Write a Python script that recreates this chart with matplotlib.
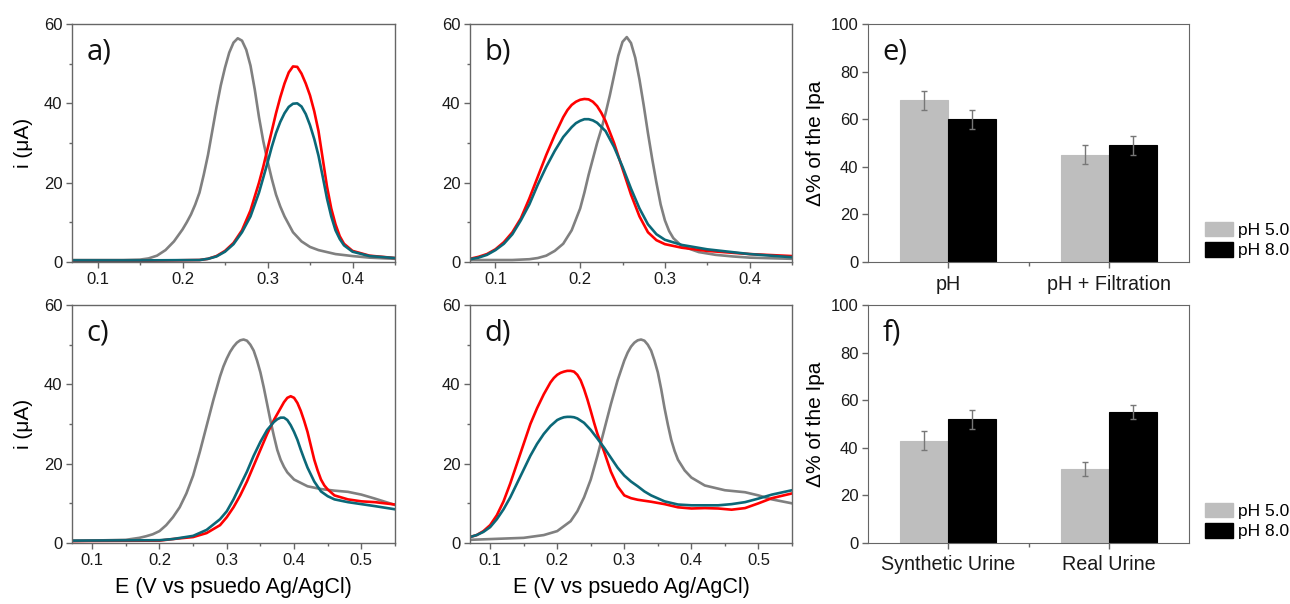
import matplotlib
matplotlib.use("Agg")
import matplotlib.pyplot as plt
from matplotlib.ticker import MultipleLocator, FixedLocator
from matplotlib.patches import Patch

# ---------------- data ----------------
# panel a
xa_gray = [0.07,0.10,0.13,0.15,0.16,0.17,0.18,0.19,0.20,0.205,0.21,0.215,0.22,0.225,0.23,0.235,0.24,0.245,0.25,0.255,0.26,0.265,0.27,0.275,0.28,0.285,0.29,0.295,0.30,0.305,0.31,0.315,0.32,0.33,0.34,0.35,0.36,0.38,0.40,0.42,0.45]
ya_gray = [0.5,0.5,0.5,0.6,0.9,1.6,3.0,5.2,8.2,10,12,14.5,17.5,22,27,33,39,44.5,49,52.8,55.3,56.4,55.8,53.5,49.5,43.5,36.5,30.5,25.5,21,17,14,11.5,7.5,5.2,3.8,3.0,2.0,1.5,1.1,0.8]
xa_red = [0.07,0.15,0.22,0.23,0.24,0.25,0.26,0.27,0.28,0.29,0.295,0.30,0.305,0.31,0.315,0.32,0.325,0.33,0.335,0.34,0.345,0.35,0.355,0.36,0.365,0.37,0.375,0.38,0.385,0.39,0.40,0.42,0.45]
ya_red = [0.3,0.3,0.5,0.8,1.5,2.8,4.8,8,13,20,24,28.5,33,37.5,41.5,45,47.8,49.3,49.2,47.5,45,42,38,33,26,19,13.5,9.5,6.5,4.6,2.8,1.6,1.0]
xa_blue = [0.07,0.15,0.22,0.23,0.24,0.25,0.26,0.27,0.28,0.29,0.30,0.305,0.31,0.315,0.32,0.325,0.33,0.335,0.34,0.345,0.35,0.355,0.36,0.365,0.37,0.375,0.38,0.385,0.39,0.40,0.42,0.45]
ya_blue = [0.4,0.4,0.5,0.8,1.4,2.6,4.5,7.5,11.5,17.5,25,29,32.5,35.3,37.5,39.1,39.9,40,39.2,37.3,34.5,31,26.8,21.5,16,11.5,8,5.8,4.2,2.6,1.5,1.0]

# panel b
xb_gray = [0.07,0.12,0.14,0.15,0.16,0.17,0.18,0.19,0.20,0.205,0.21,0.215,0.22,0.225,0.23,0.235,0.24,0.245,0.25,0.255,0.26,0.265,0.27,0.275,0.28,0.285,0.29,0.295,0.30,0.305,0.31,0.32,0.34,0.36,0.38,0.40,0.45]
yb_gray = [0.5,0.5,0.7,1.0,1.6,2.8,4.6,8,13.5,17.5,22,26,30,33.5,37.5,42,47,52,55.5,56.7,55.2,51.5,46,39.5,32.5,26,20,14.5,10.5,7.8,6,4,2.5,1.8,1.4,1.1,0.8]
xb_red = [0.07,0.08,0.09,0.10,0.11,0.12,0.13,0.14,0.15,0.16,0.17,0.18,0.185,0.19,0.195,0.20,0.205,0.21,0.215,0.22,0.225,0.23,0.24,0.25,0.26,0.27,0.28,0.29,0.30,0.32,0.35,0.40,0.45]
yb_red = [0.8,1.3,2.0,3.2,5.0,7.5,11,16,21.5,27,32,36.5,38.3,39.6,40.4,40.9,41.1,41,40.4,39.3,37.6,35.5,30,23.5,17,11.5,7.5,5.5,4.5,3.6,2.8,2.0,1.5]
xb_blue = [0.07,0.08,0.09,0.10,0.11,0.12,0.13,0.14,0.15,0.16,0.17,0.18,0.19,0.195,0.20,0.205,0.21,0.215,0.22,0.23,0.24,0.25,0.26,0.27,0.28,0.29,0.30,0.32,0.35,0.40,0.45]
yb_blue = [0.7,1.1,1.8,3.0,4.6,7,10.5,14.5,19.5,24,28,31.5,34,35,35.6,36,36,35.7,35.1,33,29,24,18.5,13.5,9.5,7,5.6,4.3,3.2,2.0,1.2]

# panel c
xc_gray = [0.07,0.15,0.17,0.18,0.19,0.20,0.21,0.22,0.23,0.24,0.25,0.26,0.27,0.28,0.29,0.295,0.30,0.305,0.31,0.315,0.32,0.325,0.33,0.335,0.34,0.345,0.35,0.355,0.36,0.365,0.37,0.375,0.38,0.385,0.39,0.40,0.42,0.44,0.46,0.48,0.50,0.52,0.55]
yc_gray = [0.5,0.8,1.3,1.7,2.2,3.0,4.5,6.5,9,12.5,17,23,29.5,36,42,44.5,46.5,48.2,49.5,50.5,51.1,51.3,51,50,48.5,46,43,39.2,35,30.8,27,23.5,21,19.2,17.8,16,14.3,13.6,13.2,12.9,12.2,11.2,9.6]
xc_red = [0.07,0.20,0.22,0.25,0.27,0.29,0.30,0.31,0.32,0.33,0.34,0.35,0.36,0.37,0.38,0.385,0.39,0.395,0.40,0.405,0.41,0.415,0.42,0.425,0.43,0.435,0.44,0.445,0.45,0.46,0.48,0.50,0.52,0.55]
yc_red = [0.5,0.6,1.0,1.5,2.5,4.5,6.5,9,12,15.5,19.5,23.5,27.5,31,34,35.5,36.6,37,36.6,35.3,33.3,30.8,28,24.5,21,18.3,16,14.5,13.5,12,11,10.5,10.3,9.7]
xc_blue = [0.07,0.20,0.22,0.25,0.27,0.29,0.30,0.31,0.32,0.33,0.34,0.35,0.36,0.37,0.375,0.38,0.385,0.39,0.395,0.40,0.405,0.41,0.415,0.42,0.43,0.44,0.45,0.46,0.48,0.50,0.52,0.55]
yc_blue = [0.6,0.7,1.0,1.8,3.3,6,8,11,14.5,18,22,25.5,28.5,30.5,31.2,31.6,31.6,31,29.7,28,26,23.5,21.2,19,15.5,13,11.8,11,10.3,9.8,9.3,8.5]

# panel d
xd_gray = [0.07,0.15,0.18,0.20,0.22,0.23,0.24,0.25,0.26,0.27,0.28,0.29,0.30,0.305,0.31,0.315,0.32,0.325,0.33,0.335,0.34,0.345,0.35,0.355,0.36,0.365,0.37,0.375,0.38,0.39,0.40,0.42,0.45,0.48,0.50,0.52,0.55]
yd_gray = [0.8,1.3,2.0,3.0,5.5,8,11.5,16,22,28.5,35,41,46,48,49.5,50.5,51.1,51.3,51,50,48.5,46,43,38.8,34,29.8,26,23.2,21,18.3,16.5,14.5,13.3,12.8,12,11,10]
xd_red = [0.07,0.08,0.09,0.10,0.11,0.12,0.13,0.14,0.15,0.16,0.17,0.18,0.19,0.195,0.20,0.205,0.21,0.215,0.22,0.225,0.23,0.235,0.24,0.245,0.25,0.255,0.26,0.27,0.28,0.29,0.30,0.31,0.32,0.34,0.36,0.38,0.40,0.42,0.44,0.46,0.48,0.50,0.52,0.55]
yd_red = [1.5,2,3,4.5,7,10.5,15,20,25,30,34,37.5,40.5,41.6,42.4,42.9,43.2,43.4,43.4,43.2,42.4,41,38.8,36.2,33.3,30.3,27.5,23,18,14.3,12,11.3,10.9,10.4,9.8,9,8.7,8.8,8.7,8.4,8.8,10,11.3,12.5]
xd_blue = [0.07,0.08,0.09,0.10,0.11,0.12,0.13,0.14,0.15,0.16,0.17,0.18,0.19,0.20,0.205,0.21,0.215,0.22,0.225,0.23,0.24,0.25,0.26,0.27,0.28,0.29,0.30,0.31,0.32,0.33,0.34,0.36,0.38,0.40,0.42,0.44,0.46,0.48,0.50,0.52,0.55]
yd_blue = [1.5,2,2.8,4,6,8.5,11.5,15,18.5,22,25,27.5,29.5,31,31.4,31.7,31.8,31.8,31.7,31.4,30.3,28.5,26.3,24,21.5,19,17,15.5,14.3,13,12,10.5,9.7,9.5,9.5,9.5,9.8,10.3,11.2,12.2,13.3]

# panel e / f bars
e_categories = ["pH", "pH + Filtration"]
e_ph5 = [68, 45]
e_ph5_err = [4, 4]
e_ph8 = [60, 49]
e_ph8_err = [4, 4]

f_categories = ["Synthetic Urine", "Real Urine"]
f_ph5 = [43, 31]
f_ph5_err = [4, 3]
f_ph8 = [52, 55]
f_ph8_err = [4, 3]

series_labels = ["pH 5.0", "pH 8.0"]

# ---------------- style ----------------
W, H = 1290, 604
plt.rcParams['font.family'] = ['Liberation Sans', 'DejaVu Sans']
plt.rcParams['axes.edgecolor'] = '#666666'
plt.rcParams['xtick.color'] = '#666666'
plt.rcParams['ytick.color'] = '#666666'
plt.rcParams['xtick.labelcolor'] = '#1a1a1a'
plt.rcParams['ytick.labelcolor'] = '#1a1a1a'

fig = plt.figure(figsize=(W/100, H/100), dpi=100)

def ax_px(left, top, right, bottom):
    return fig.add_axes([left/W, (H-bottom)/H, (right-left)/W, (bottom-top)/H])

GRAY = '#808080'
RED = '#ff0000'
TEAL = '#0b6878'
LBL_FONT = ['Open Sans', 'DejaVu Sans']
TICK_FS = 12
PANEL_FS = 21

def style_line_ax(ax, xmax, label):
    ax.set_xlim(0.07, xmax)
    ax.set_ylim(0, 60)
    ax.xaxis.set_minor_locator(MultipleLocator(0.05))
    ax.yaxis.set_minor_locator(MultipleLocator(10))
    ax.tick_params(which='major', direction='out', length=4, width=1, labelsize=TICK_FS, pad=3)
    ax.tick_params(which='minor', direction='out', length=2.5, width=1)
    ticks = [0.1, 0.2, 0.3, 0.4] if xmax < 0.5 else [0.1, 0.2, 0.3, 0.4, 0.5]
    ax.set_xticks(ticks)
    ax.set_xticklabels([f'{t:.1f}' for t in ticks])
    ax.set_yticks([0, 20, 40, 60])
    ax.set_yticklabels(['0', '20', '40', '60'])
    ax.text(0.045, 0.945, label, transform=ax.transAxes, fontsize=PANEL_FS, va='top', ha='left',
            family=LBL_FONT, color='#111111')
    for s in ax.spines.values():
        s.set_linewidth(1.0)

lw = 1.9
ax_a = ax_px(72, 24, 395, 262)
ax_a.plot(xa_gray, ya_gray, color=GRAY, lw=lw)
ax_a.plot(xa_red, ya_red, color=RED, lw=lw)
ax_a.plot(xa_blue, ya_blue, color=TEAL, lw=lw)
style_line_ax(ax_a, 0.45, 'a)')
ax_a.set_ylabel('i (\u03bcA)', fontsize=15, labelpad=8)

ax_b = ax_px(470, 24, 792, 262)
ax_b.plot(xb_gray, yb_gray, color=GRAY, lw=lw)
ax_b.plot(xb_red, yb_red, color=RED, lw=lw)
ax_b.plot(xb_blue, yb_blue, color=TEAL, lw=lw)
style_line_ax(ax_b, 0.45, 'b)')

ax_c = ax_px(72, 305, 395, 543)
ax_c.plot(xc_gray, yc_gray, color=GRAY, lw=lw)
ax_c.plot(xc_red, yc_red, color=RED, lw=lw)
ax_c.plot(xc_blue, yc_blue, color=TEAL, lw=lw)
style_line_ax(ax_c, 0.55, 'c)')
ax_c.set_ylabel('i (\u03bcA)', fontsize=15, labelpad=8)
ax_c.set_xlabel('E (V vs psuedo Ag/AgCl)', fontsize=15.5, labelpad=7)

ax_d = ax_px(470, 305, 792, 543)
ax_d.plot(xd_gray, yd_gray, color=GRAY, lw=lw)
ax_d.plot(xd_red, yd_red, color=RED, lw=lw)
ax_d.plot(xd_blue, yd_blue, color=TEAL, lw=lw)
style_line_ax(ax_d, 0.55, 'd)')
ax_d.set_xlabel('E (V vs psuedo Ag/AgCl)', fontsize=15.5, labelpad=7)

LGRAY = '#bebebe'

def bar_ax(ax, cats, v5, e5, v8, e8, label, legend_y):
    pos = list(range(len(cats)))
    w = 0.3
    ax.bar([p - w/2 for p in pos], v5, width=w, color=LGRAY, edgecolor=LGRAY, lw=0.8)
    ax.bar([p + w/2 for p in pos], v8, width=w, color='black', edgecolor='black', lw=0.8)
    ax.errorbar([p - w/2 for p in pos], v5, yerr=e5, fmt='none', ecolor='#777777',
                elinewidth=1, capsize=2.2, capthick=1)
    ax.errorbar([p + w/2 for p in pos], v8, yerr=e8, fmt='none', ecolor='#777777',
                elinewidth=1, capsize=2.2, capthick=1)
    ax.set_xlim(-0.5, len(cats) - 0.5)
    ax.set_ylim(0, 100)
    ax.set_xticks(pos)
    ax.set_xticklabels(cats, fontsize=14.2)
    ax.xaxis.set_minor_locator(FixedLocator([0.5]))
    ax.set_yticks([0, 20, 40, 60, 80, 100])
    ax.set_yticklabels(['0', '20', '40', '60', '80', '100'])
    ax.tick_params(axis='y', which='major', direction='out', length=4, width=1, labelsize=TICK_FS, pad=3)
    ax.tick_params(axis='x', which='major', direction='out', length=4, width=1, pad=5)
    ax.tick_params(axis='x', which='minor', direction='out', length=3, width=1)
    ax.set_ylabel('\u0394% of the Ipa', fontsize=15, labelpad=4)
    ax.text(0.045, 0.945, label, transform=ax.transAxes, fontsize=PANEL_FS, va='top', ha='left',
            family=LBL_FONT, color='#111111')
    handles = [Patch(facecolor=LGRAY, edgecolor=LGRAY), Patch(facecolor='black', edgecolor='black')]
    fig.legend(handles, series_labels, loc='center left',
               bbox_to_anchor=(1205/W, 1 - legend_y/H), frameon=False, fontsize=12.5,
               handlelength=1.6, handleheight=0.9, handletextpad=0.3, labelspacing=0.25,
               borderpad=0.0, borderaxespad=0.0)

ax_e = ax_px(868, 24, 1189, 262)
bar_ax(ax_e, e_categories, e_ph5, e_ph5_err, e_ph8, e_ph8_err, 'e)', 240)

ax_f = ax_px(868, 305, 1189, 543)
bar_ax(ax_f, f_categories, f_ph5, f_ph5_err, f_ph8, f_ph8_err, 'f)', 521)

fig.savefig('out.png', dpi=100)
